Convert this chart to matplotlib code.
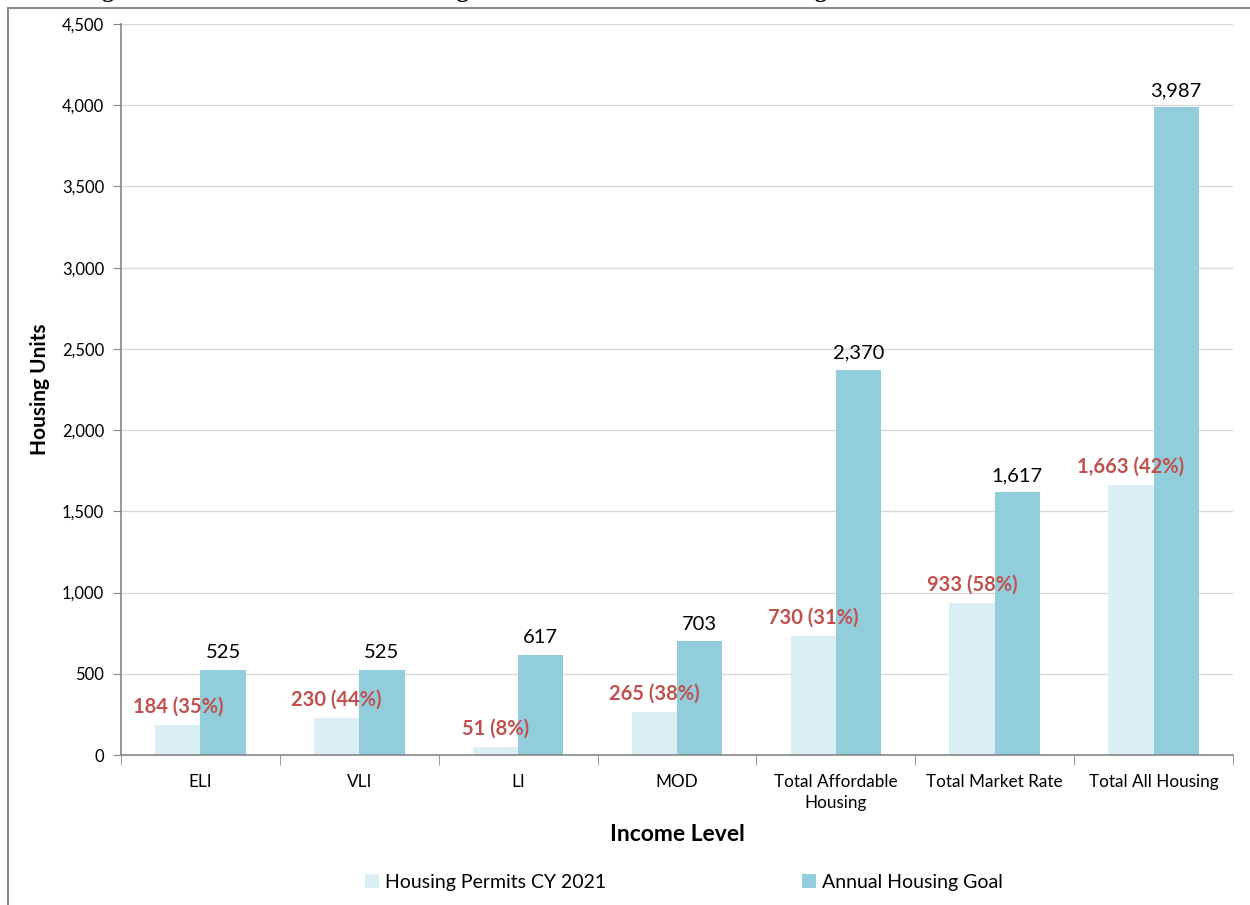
import numpy as np
import matplotlib
matplotlib.use("Agg")
import matplotlib.pyplot as plt
from matplotlib.patches import Rectangle

categories = ["ELI", "VLI", "LI", "MOD", "Total Affordable\nHousing",
              "Total Market Rate", "Total All Housing"]
permits = [184, 230, 51, 265, 730, 933, 1663]
goal = [525, 525, 617, 703, 2370, 1617, 3987]
pct = [35, 44, 8, 38, 31, 58, 42]

plt.rcParams['font.family'] = ['Lato', 'DejaVu Sans']

fig = plt.figure(figsize=(12.5, 9.05), dpi=100)
ax = fig.add_axes([0.0968, 0.1657, 0.8896, 0.8078])

# frame around the chart (cut at right/bottom like the source)
fig.patches.append(Rectangle((8 / 1250, -0.05), 1.2, 1 - 8 / 905 + 0.05,
                             transform=fig.transFigure, fill=False,
                             edgecolor="#8c8c8c", linewidth=1.5))
# title, mostly cut off at the top
fig.text(0.065, 1.0 + 3 / 905, "Figure 1: Calendar Year 2021 Housing Permits Issued vs. Annual Housing Goal Performance",
         ha="left", va="baseline", fontsize=17, fontweight="bold",
         family="Liberation Serif")

x = np.arange(len(categories))
w = 0.285
b1 = ax.bar(x - w / 2, permits, w, color="#DAEEF3", label="Housing Permits CY 2021")
b2 = ax.bar(x + w / 2, goal, w, color="#92CDDC", label="Annual Housing Goal")

for xi, v, p in zip(x, permits, pct):
    ax.annotate(f"{v:,} ({p}%)", (xi - w / 2, v), xytext=(0, 6), textcoords="offset points",
                ha="center", va="bottom", color="#C0504D", fontweight="bold", fontsize=14.5)
for xi, v in zip(x, goal):
    ax.annotate(f"{v:,}", (xi + w / 2, v), xytext=(0, 6), textcoords="offset points",
                ha="center", va="bottom", color="black", fontsize=14.5)

ax.set_xlim(-0.5, len(categories) - 0.5)
ax.set_ylim(0, 4500)
ax.set_yticks(np.arange(0, 4501, 500))
ax.set_yticklabels([f"{t:,}" for t in range(0, 4501, 500)])
ax.set_xticks(x)
ax.set_xticklabels(categories, linespacing=1.35)
ax.set_xticks(np.arange(-0.5, len(categories)), minor=True)
ax.tick_params(axis="x", which="major", length=0, pad=14, labelsize=12.3)
ax.tick_params(axis="x", which="minor", length=7, color="#868686")
ax.tick_params(axis="y", length=6, color="#868686", labelsize=12, pad=6)
ax.grid(axis="y", color="#D9D9D9", linewidth=1)
ax.set_axisbelow(True)
for s in ["top", "right"]:
    ax.spines[s].set_visible(False)
for s in ["left", "bottom"]:
    ax.spines[s].set_color("#868686")
    ax.spines[s].set_linewidth(1.2)

ax.set_ylabel("Housing Units", fontsize=15, fontweight="bold", labelpad=9)
ax.set_xlabel("Income Level", fontsize=16.5, fontweight="bold", labelpad=9)

fig.legend(handles=[b1, b2], loc="center", bbox_to_anchor=(0.547, 1 - 882 / 905),
           ncol=2, frameon=False, fontsize=14, handlelength=0.7, handleheight=0.7,
           handletextpad=0.3, columnspacing=10.1)

fig.savefig("out.png", dpi=100)
